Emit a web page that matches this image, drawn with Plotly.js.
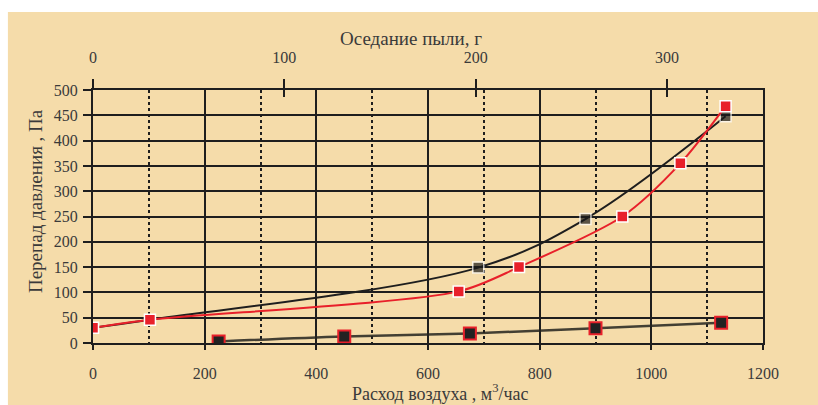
<!DOCTYPE html>
<html><head><meta charset="utf-8">
<script src="https://cdn.plot.ly/plotly-3.0.1.min.js"></script>
<style>html,body{margin:0;padding:0;background:#fff;}#chart{width:818px;height:405px;}</style>
</head><body><div id="chart"></div>
<script>
// Upper red curve: air flow (m3/h) vs pressure drop (Pa)
const redX = [0, 102, 655, 763, 948, 1052, 1133];
const redY = [30, 46, 102, 150, 250, 355, 468];
// Upper black curve
const blackX = [0, 102, 690, 882, 1133];
const blackY = [30, 46, 149, 245, 448];
const blackMarkerShown = [0, 0, 1, 1, 1];
// Lower series (black squares with red border)
const dustX = [225, 450, 675, 900, 1125];
const dustY = [3, 13, 19, 29, 40];
// Tick labels
const flowTicks = [0, 200, 400, 600, 800, 1000, 1200];
const pressureTicks = [0, 50, 100, 150, 200, 250, 300, 350, 400, 450, 500];
const dustTicks = [0, 100, 200, 300];
const dustRange = [0, 350.2];

const titleTop = 'Оседание пыли, г';
const titleLeft = 'Перепад давления , Па';
const titleBottom = 'Расход воздуха , м<sup>3</sup>/час';

const ink = '#1e1e1e';
const txt = '#3a3a3a';
const font = 'Liberation Serif, Times New Roman, serif';

const traces = [
  {x: dustX, y: dustY, mode: 'lines+markers', type: 'scatter', showlegend: false, hoverinfo: 'skip',
   line: {color: 'rgba(35,35,30,0.85)', width: 2.5, shape: 'spline'},
   marker: {symbol: 'square', size: 12, color: '#222222', line: {color: '#e8202a', width: 2}}},
  {x: blackX, y: blackY, mode: 'lines+markers', type: 'scatter', showlegend: false, hoverinfo: 'skip',
   line: {color: ink, width: 2, shape: 'spline', smoothing: 1},
   marker: {symbol: 'square', size: blackMarkerShown.map(v => v ? 11 : 0), color: '#1a1a1a', line: {color: '#ffffff', width: 1.5}}},
  {x: redX, y: redY, mode: 'lines+markers', type: 'scatter', showlegend: false, hoverinfo: 'skip',
   line: {color: '#e8202a', width: 2, shape: 'spline', smoothing: 0.8},
   marker: {symbol: 'square', size: 11, color: '#e8202a', line: {color: '#ffffff', width: 1.5}}},
  {x: [0], y: [0], xaxis: 'x2', yaxis: 'y', type: 'scatter', mode: 'markers', marker: {size: 0, opacity: 0}, showlegend: false, hoverinfo: 'skip'},
  {x: [0], y: [0], xaxis: 'x3', yaxis: 'y', type: 'scatter', mode: 'markers', marker: {size: 0, opacity: 0}, showlegend: false, hoverinfo: 'skip'}
];

const tickFont = {family: font, size: 16, color: txt};

const layout = {
  width: 818, height: 405,
  margin: {l: 93, r: 55, t: 90, b: 62, pad: 0},
  paper_bgcolor: '#ffffff',
  plot_bgcolor: 'rgba(0,0,0,0)',
  showlegend: false,
  xaxis: {
    range: [0, 1200], tickvals: flowTicks, ticktext: flowTicks.map(String),
    ticks: 'outside', ticklen: 5, tickwidth: 2, tickcolor: ink,
    showline: true, linewidth: 2, linecolor: ink,
    showgrid: true, gridcolor: ink, gridwidth: 2, zeroline: false,
    minor: {dtick: 100, tick0: 0, showgrid: true, gridcolor: ink, gridwidth: 2, griddash: '3px,3px', ticks: ''},
    tickfont: tickFont, ticklabelstandoff: 10, fixedrange: true
  },
  xaxis2: {
    overlaying: 'x', side: 'top', anchor: 'y', range: dustRange,
    tickvals: dustTicks, ticktext: dustTicks.map(String),
    ticks: 'outside', ticklen: 9, tickwidth: 2, tickcolor: ink,
    showline: true, linewidth: 2, linecolor: ink, showgrid: false, zeroline: false,
    tickfont: tickFont, ticklabelstandoff: 10, fixedrange: true
  },
  xaxis3: {
    overlaying: 'x', side: 'top', anchor: 'y', range: dustRange,
    tickvals: dustTicks, ticks: 'inside', ticklen: 7, tickwidth: 2, tickcolor: ink,
    showticklabels: false, showline: false, showgrid: false, zeroline: false, fixedrange: true
  },
  yaxis: {
    range: [0, 500], tickvals: pressureTicks, ticktext: pressureTicks.map(String),
    ticks: 'outside', ticklen: 8, tickwidth: 2, tickcolor: ink,
    showline: true, linewidth: 2, linecolor: ink, mirror: true,
    showgrid: true, gridcolor: ink, gridwidth: 2, zeroline: false,
    tickfont: tickFont, ticklabelstandoff: 2, fixedrange: true
  },
  shapes: [
    {type: 'rect', xref: 'paper', yref: 'paper', x0: -0.127, x1: 1.1, y0: -0.3, y1: 1.3083,
     fillcolor: '#f5dcaa', line: {width: 0}, layer: 'below'}
  ],
  annotations: [
    {text: titleTop, xref: 'paper', yref: 'paper', x: 0.4746, y: 1.2016, xanchor: 'center', yanchor: 'middle',
     showarrow: false, font: {family: font, size: 19, color: txt}},
    {text: titleLeft, xref: 'paper', yref: 'paper', x: -0.0866, y: 0.561, xanchor: 'center', yanchor: 'middle',
     textangle: -90, showarrow: false, font: {family: font, size: 19, color: txt}},
    {text: titleBottom, xref: 'paper', yref: 'paper', x: 0.519, y: -0.195, xanchor: 'center', yanchor: 'middle',
     showarrow: false, font: {family: font, size: 18, color: txt}}
  ]
};

Plotly.newPlot('chart', traces, layout, {displayModeBar: false, staticPlot: true});
</script>
</body></html>
